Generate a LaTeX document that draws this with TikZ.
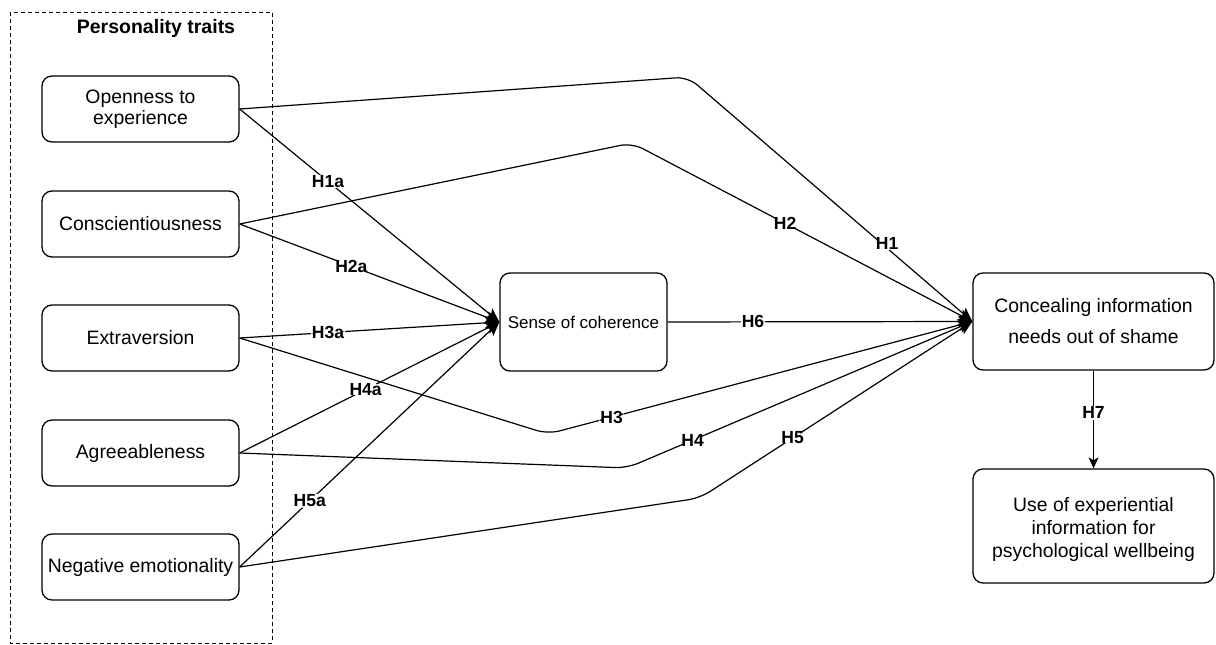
\documentclass[tikz,border=0pt]{standalone}
\usepackage{fontspec}
\setmainfont{Liberation Sans}
\usetikzlibrary{arrows.meta}
\begin{document}
\begin{tikzpicture}[x=1pt,y=-1pt,
 box/.style={draw, rounded corners=10pt, line width=1.3pt, align=center, inner sep=0pt, font=\fontsize{19.4}{21}\selectfont},
 trait/.style={box, minimum width=197pt, minimum height=66pt},
 lbl/.style={fill=white, inner sep=1pt, font=\bfseries\fontsize{17.5}{19}\selectfont},
 conn/.style={line width=1.2pt, -{Stealth[length=14pt,width=12pt,inset=3pt]}, rounded corners=12pt}]
\useasboundingbox (0,0) rectangle (1216,645);
\draw[dash pattern=on 4pt off 3pt, line width=1pt] (10,12) rectangle (272,643);
\node[font=\bfseries\fontsize{19.5}{21}\selectfont] (title) at (156,28) {Personality traits};
\node[trait] (o) at (140.5,109) {Openness to\\experience};
\node[trait] (co) at (140.5,224) {Conscientiousness};
\node[trait] (e) at (140.5,338) {Extraversion};
\node[trait] (a) at (140.5,453) {Agreeableness};
\node[trait] (n) at (140.5,567) {Negative emotionality};
\node[box, minimum width=167pt, minimum height=98pt, font=\fontsize{17}{20}\selectfont] (s) at (583.5,322) {Sense of coherence};
\node[box, minimum width=241pt, minimum height=97pt, font=\fontsize{19.4}{31}\selectfont] (c) at (1093.5,321.5) {Concealing information\\needs out of shame};
\node[box, minimum width=241pt, minimum height=114pt, font=\fontsize{19.4}{23}\selectfont] (u) at (1093.5,526) {\rule{0pt}{22pt}Use of experiential\\information for\\psychological wellbeing};
% to sense of coherence
\draw[conn] (o.east) -- (s.west) node[lbl, pos=0.34] {H1a};
\draw[conn] (co.east) -- (s.west) node[lbl, pos=0.43] {H2a};
\draw[conn] (e.east) -- (s.west) node[lbl, pos=0.34] {H3a};
\draw[conn] (a.east) -- (s.west) node[lbl, pos=0.485] {H4a};
\draw[conn] (n.east) -- (s.west) node[lbl, pos=0.27] {H5a};
% direct paths
\coordinate (b1) at (688,77);
\coordinate (b2) at (632,143);
\coordinate (b3) at (548,434);
\coordinate (b4) at (627,468);
\coordinate (b5) at (700,498);
\draw[conn] (o.east) -- (b1) -- (c.west) node[lbl, pos=0.7, yshift=5pt] {H1};
\draw[conn] (co.east) -- (b2) -- (c.west) node[lbl, pos=0.45] {H2};
\draw[conn] (e.east) -- (b3) -- (c.west) node[lbl, pos=0.15] {H3};
\draw[conn] (a.east) -- (b4) -- (c.west) node[lbl, pos=0.19] {H4};
\draw[conn] (n.east) -- (b5) -- (c.west) node[lbl, pos=0.34] {H5};
\draw[conn] (s.east) -- (c.west) node[lbl, pos=0.28] {H6};
\draw[line width=1.2pt, -{Stealth[length=11pt,width=10pt,inset=3pt]}] (c.south) -- (u.north) node[lbl, pos=0.43] {H7};
\end{tikzpicture}
\end{document}
